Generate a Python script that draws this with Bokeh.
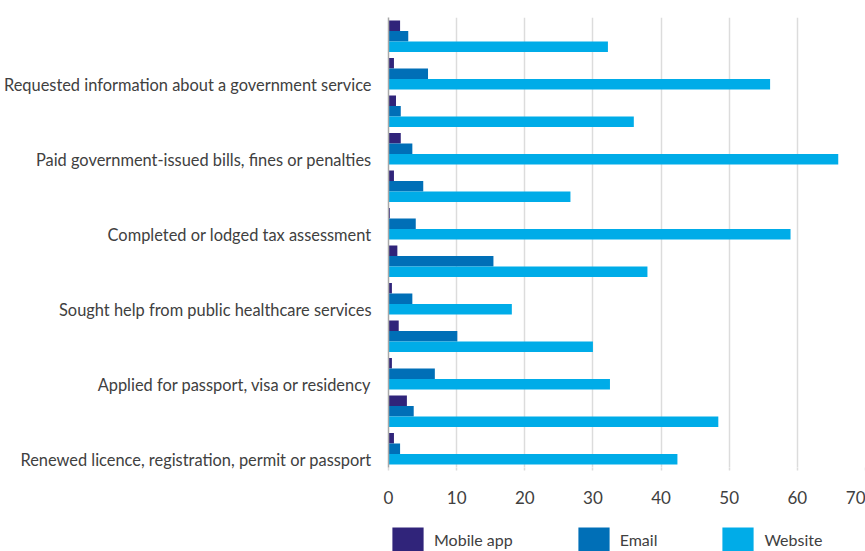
from bokeh.plotting import figure
from bokeh.layouts import column
from bokeh.models import Range1d, FixedTicker, Legend, LegendItem, ColumnDataSource
from bokeh.embed import file_html
from bokeh.resources import INLINE

# Activity labels (each labelled activity sits on every second bar group)
activities = [
    "Requested information about a government service",
    "Paid government-issued bills, fines or penalties",
    "Completed or lodged tax assessment",
    "Sought help from public healthcare services",
    "Applied for passport, visa or residency",
    "Renewed licence, registration, permit or passport",
]
# 12 bar groups, top to bottom; only every second one carries a label
groups = ["", activities[0], "", activities[1], "", activities[2],
          "", activities[3], "", activities[4], "", activities[5]]

series_names = ["Mobile app", "Email", "Website"]
mobile_app = [1.7, 0.8, 1.1, 1.8, 0.8, 0.2, 1.3, 0.5, 1.5, 0.5, 2.7, 0.8]
email = [2.9, 5.8, 1.8, 3.5, 5.1, 4.0, 15.4, 3.5, 10.1, 6.8, 3.7, 1.7]
website = [32.2, 56.0, 36.0, 66.0, 26.7, 59.0, 38.0, 18.1, 30.0, 32.5, 48.4, 42.4]

x_ticks = [0, 10, 20, 30, 40, 50, 60, 70]

colors = ["#30247A", "#006FB7", "#00ACE8"]
FONT = "Lato"
TXT = "#404040"

n = len(groups)
bar_h = 0.28
shift = 0.22
centers = [i + 0.5 + shift for i in range(n)]

p = figure(width=865, height=524, output_backend="svg", toolbar_location=None,
           x_range=Range1d(0, 70), y_range=Range1d(n + shift, shift),
           min_border_left=388, min_border_right=0, min_border_top=17,
           min_border_bottom=57)
p.outline_line_color = None
p.background_fill_color = None
p.border_fill_color = "white"

sources = []
renderers = []
for k, (vals, col) in enumerate(zip([mobile_app, email, website], colors)):
    src = ColumnDataSource(dict(y=[c + (k - 1) * bar_h for c in centers], v=vals))
    sources.append(src)
    r = p.hbar(y="y", right="v", left=0, height=bar_h, source=src,
               fill_color=col, line_color=None)
    renderers.append(r)

# y axis: labels at the "Website" bar of every second group
label_pos = [int(round(c + bar_h)) for c, g in zip(centers, groups) if g]
p.yaxis.ticker = FixedTicker(ticks=label_pos)
p.yaxis.major_label_overrides = {pos: g for pos, g in zip(label_pos, [g for g in groups if g])}
p.yaxis.major_tick_line_color = None
p.yaxis.major_tick_out = 0
p.yaxis.major_tick_in = 0
p.yaxis.minor_tick_line_color = None
p.yaxis.axis_line_color = "#A8A8A8"
p.yaxis.axis_line_width = 1.5
p.yaxis.major_label_text_font = FONT
p.yaxis.major_label_text_font_size = "16.4px"
p.yaxis.major_label_text_color = TXT
p.yaxis.major_label_standoff = 17
p.ygrid.grid_line_color = None

# x axis
p.xaxis.ticker = FixedTicker(ticks=x_ticks)
p.xaxis.axis_line_color = None
p.xaxis.major_tick_line_color = "#DCDCDC"
p.xaxis.major_tick_line_width = 1.5
p.xaxis.major_tick_in = 0
p.xaxis.major_tick_out = 3
p.xaxis.minor_tick_line_color = None
p.xaxis.major_label_text_font = FONT
p.xaxis.major_label_text_font_size = "17px"
p.xaxis.major_label_text_color = TXT
p.xaxis.major_label_text_align = "right"
p.xaxis.major_label_standoff = 20
p.xgrid.grid_line_color = "#DCDCDC"
p.xgrid.grid_line_width = 1.5

# legend strip below the chart (same series, drawn out of view so only the legend shows)
lg = figure(width=865, height=27, output_backend="svg", toolbar_location=None,
            x_range=Range1d(0, 70), y_range=Range1d(100, 101),
            min_border_left=380, min_border_right=0, min_border_top=0, min_border_bottom=0)
lg.outline_line_color = None
lg.axis.visible = False
lg.grid.grid_line_color = None
lg_renderers = []
for src, col in zip(sources, colors):
    lg_renderers.append(lg.hbar(y="y", right="v", left=0, height=bar_h, source=src,
                                fill_color=col, line_color=None))

legend = Legend(items=[LegendItem(label=nm, renderers=[r]) for nm, r in zip(series_names, lg_renderers)],
                orientation="horizontal", location="top_left",
                glyph_width=39, glyph_height=30, spacing=61, label_standoff=7,
                label_text_font=FONT, label_text_font_size="16px", label_text_color=TXT,
                border_line_color=None, background_fill_alpha=0,
                padding=0, margin=0)
lg.add_layout(legend, "center")

layout = column(p, lg, spacing=0)
open("out.html", "w").write(file_html(layout, INLINE))
